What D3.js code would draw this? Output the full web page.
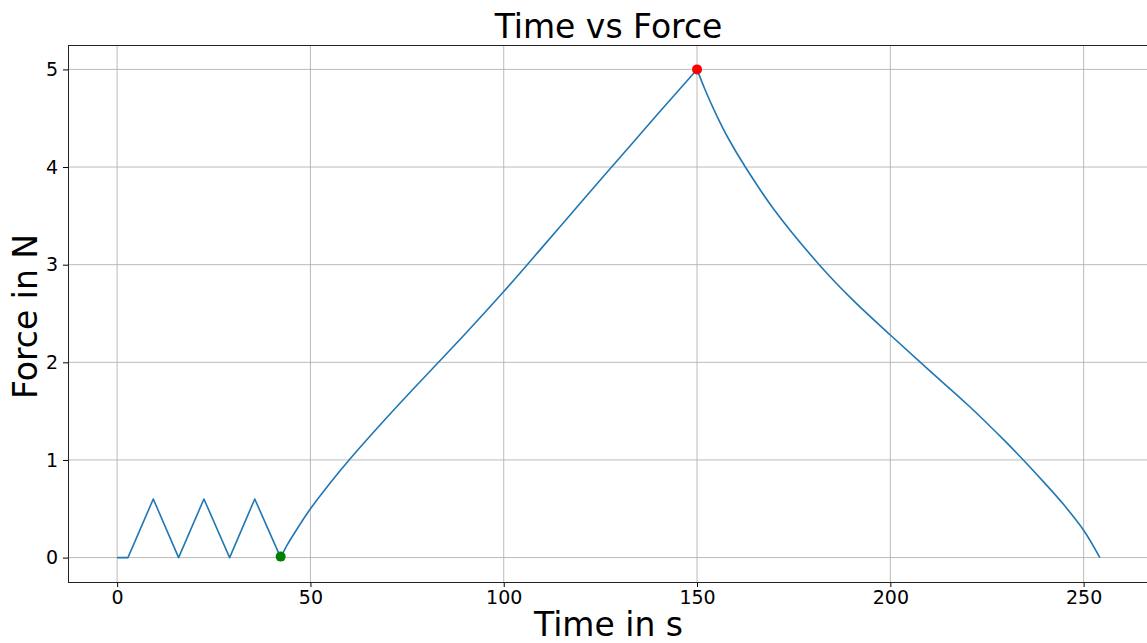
<!DOCTYPE html>
<html>
<head>
<meta charset="utf-8">
<script src="https://cdn.jsdelivr.net/npm/d3@7"></script>
<style>
  html, body { margin: 0; padding: 0; background: #fff; }
  svg { display: block; font-family: "DejaVu Sans", sans-serif; }
</style>
</head>
<body>
<svg id="chart" width="1147" height="643"></svg>
<script>
// Loading cycles before the main ramp (time in s, force in N)
const cycleTime  = [0, 2.8, 9.35, 15.9, 22.45, 29.1, 35.6, 42.3];
const cycleForce = [0, 0,   0.6,  0,    0.6,   0,    0.6,  0];

// Main loading ramp up to the peak
const rampTime  = [42.3, 44,   46,   50,   55,   60,  70,    80,   90,   100,   110,  120,  130,   140,  150];
const rampForce = [0,    0.13, 0.26, 0.50, 0.76, 1.0, 1.445, 1.87, 2.29, 2.725, 3.18, 3.64, 4.095, 4.55, 5.0];

// Relaxation after the peak
const decayTime  = [150, 152,  155,   158,  162.5, 170,  181.6, 190,  200,  210,  220,   230,  234.4, 240,  245,   250,  254.2];
const decayForce = [5.0, 4.80, 4.535, 4.30, 4.0,   3.56, 3.0,   2.65, 2.28, 1.92, 1.565, 1.18, 1.0,   0.76, 0.535, 0.28, 0];

// Highlighted points: start of ramp and maximum force
const startPoint = [42.3, 0.01];
const peakPoint  = [150, 5.0];

const xTicks = [0, 50, 100, 150, 200, 250];
const yTicks = [0, 1, 2, 3, 4, 5];

const title  = "Time vs Force";
const xLabel = "Time in s";
const yLabel = "Force in N";

const zip = (xs, ys) => xs.map((x, i) => [x, ys[i]]);
const cycles = zip(cycleTime, cycleForce);
const ramp   = zip(rampTime, rampForce);
const decay  = zip(decayTime, decayForce);

const svg = d3.select("#chart");
const plotLeft = 68, plotRight = 1149, plotTop = 45, plotBottom = 582;

const tMax = d3.max(decayTime), fMax = d3.max(rampForce);
const x = d3.scaleLinear().domain([-0.05 * tMax, tMax * 1.05]).range([plotLeft, plotRight]);
const y = d3.scaleLinear().domain([-0.05 * fMax, fMax * 1.05]).range([plotBottom, plotTop]);

// grid
const grid = svg.append("g");
grid.selectAll(".gx").data(xTicks).join("line")
  .attr("x1", d => x(d)).attr("x2", d => x(d))
  .attr("y1", plotTop).attr("y2", plotBottom)
  .attr("stroke", "#b0b0b0").attr("stroke-width", 1).attr("opacity", 0.85);
grid.selectAll(".gy").data(yTicks).join("line")
  .attr("x1", plotLeft).attr("x2", plotRight)
  .attr("y1", d => y(d)).attr("y2", d => y(d))
  .attr("stroke", "#b0b0b0").attr("stroke-width", 1).attr("opacity", 0.85);

// axes
const xAxis = svg.append("g")
  .attr("transform", `translate(0,${plotBottom})`)
  .call(d3.axisBottom(x).tickValues(xTicks).tickFormat(d3.format("d"))
    .tickSize(5).tickPadding(4).tickSizeOuter(0));
const yAxis = svg.append("g")
  .attr("transform", `translate(${plotLeft},0)`)
  .call(d3.axisLeft(y).tickValues(yTicks).tickFormat(d3.format("d"))
    .tickSize(5).tickPadding(5).tickSizeOuter(0));
[xAxis, yAxis].forEach(g => {
  g.select(".domain").remove();
  g.selectAll("text").attr("font-size", 19).attr("fill", "#000")
    .attr("font-family", "DejaVu Sans, sans-serif");
  g.selectAll(".tick line").attr("stroke", "#000").attr("stroke-width", 1);
});

// frame
svg.append("rect")
  .attr("x", plotLeft + 0.5).attr("y", plotTop + 0.5)
  .attr("width", plotRight - plotLeft).attr("height", plotBottom - plotTop)
  .attr("fill", "none").attr("stroke", "#222").attr("stroke-width", 1);

// force curve
const lineLinear = d3.line().x(d => x(d[0])).y(d => y(d[1]));
const lineSmooth = d3.line().x(d => x(d[0])).y(d => y(d[1])).curve(d3.curveCatmullRom.alpha(0.5));
const curves = svg.append("g").attr("fill", "none")
  .attr("stroke", "#1f77b4").attr("stroke-width", 1.6).attr("stroke-linejoin", "round");
curves.append("path").attr("d", lineLinear(cycles));
curves.append("path").attr("d", lineSmooth(ramp));
curves.append("path").attr("d", lineSmooth(decay));

// markers
svg.append("circle").attr("cx", x(startPoint[0])).attr("cy", y(startPoint[1]))
  .attr("r", 5).attr("fill", "green");
svg.append("circle").attr("cx", x(peakPoint[0])).attr("cy", y(peakPoint[1]))
  .attr("r", 5).attr("fill", "red");

// labels
svg.append("text").attr("x", (plotLeft + plotRight) / 2).attr("y", 37.5)
  .attr("text-anchor", "middle").attr("font-size", 33).text(title);
svg.append("text").attr("x", (plotLeft + plotRight) / 2).attr("y", 636)
  .attr("text-anchor", "middle").attr("font-size", 33).text(xLabel);
svg.append("text")
  .attr("transform", `translate(37,${(plotTop + plotBottom) / 2 + 3}) rotate(-90)`)
  .attr("text-anchor", "middle").attr("font-size", 33).text(yLabel);
</script>
</body>
</html>
